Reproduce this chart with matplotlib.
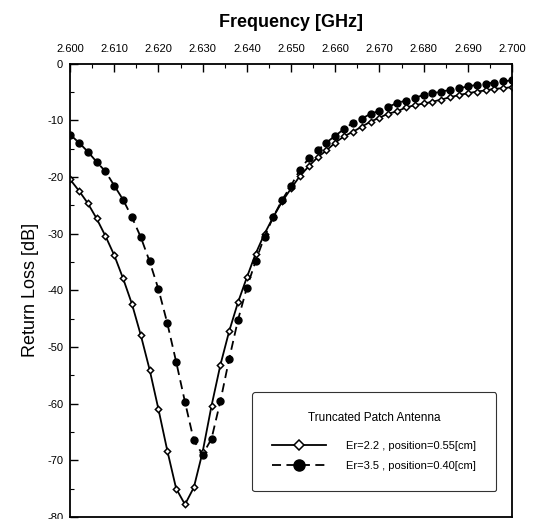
import numpy as np
import matplotlib
matplotlib.use("Agg")
import matplotlib.pyplot as plt
from matplotlib.ticker import MultipleLocator, FormatStrFormatter

plt.rcParams["font.family"] = ["Liberation Sans", "DejaVu Sans"]
plt.rcParams["axes.unicode_minus"] = False

# frequency points, 2 MHz step
freq = np.round(np.arange(2.600, 2.7001, 0.002), 3)

# Er=2.2, position=0.55 cm
rl_22 = [
    -20.4, -22.4, -24.6, -27.3, -30.4, -33.8, -37.9, -42.4, -47.9, -54.0,
    -61.0, -68.3, -75.0, -77.8, -74.8, -68.5, -60.4, -53.2, -47.2, -42.1,
    -37.7, -33.5, -30.0, -27.0, -24.3, -22.0, -19.8, -18.1, -16.5, -15.3,
    -13.9, -12.8, -12.0, -11.1, -10.2, -9.5, -8.8, -8.4, -7.7, -7.3,
    -7.0, -6.7, -6.3, -5.9, -5.5, -5.2, -4.9, -4.7, -4.4, -4.3,
    -4.1,
]

# Er=3.5, position=0.40 cm
rl_35 = [
    -12.5, -13.9, -15.5, -17.3, -19.0, -21.5, -24.0, -27.1, -30.6, -34.9,
    -39.8, -45.8, -52.6, -59.7, -66.5, -69.0, -66.2, -59.6, -52.1, -45.2,
    -39.5, -34.8, -30.5, -27.0, -24.0, -21.5, -18.7, -16.7, -15.3, -13.9,
    -12.7, -11.5, -10.4, -9.7, -8.8, -8.3, -7.6, -6.9, -6.5, -6.0,
    -5.5, -5.2, -4.9, -4.6, -4.3, -4.0, -3.7, -3.5, -3.3, -3.1,
    -2.9,
]

labels = ["Er=2.2 , position=0.55[cm]", "Er=3.5 , position=0.40[cm]"]

fig = plt.figure(figsize=(5.39, 5.19), dpi=100)
ax = fig.add_axes([0.130, 0.004, 0.820, 0.873])

ax.plot(freq, rl_22, color="black", lw=1.3, marker="D", ms=3.2,
        mfc="white", mec="black", mew=1.1, label=labels[0])
ax.plot(freq, rl_35, color="black", lw=1.3, ls=(0, (5, 3)), marker="o",
        ms=5, mfc="black", mec="black", label=labels[1])

ax.set_xlim(2.600, 2.700)
ax.set_ylim(-80, 0)

ax.xaxis.tick_top()
ax.xaxis.set_label_position("top")
ax.xaxis.set_major_locator(MultipleLocator(0.01))
ax.xaxis.set_minor_locator(MultipleLocator(0.005))
ax.xaxis.set_major_formatter(FormatStrFormatter("%.3f"))
ax.yaxis.set_major_locator(MultipleLocator(10))
ax.yaxis.set_minor_locator(MultipleLocator(5))
ax.tick_params(axis="both", which="both", direction="in", labelsize=8)
ax.tick_params(which="major", length=6, width=1.0)
ax.tick_params(which="minor", length=3, width=0.8)
ax.tick_params(axis="x", pad=7)
ax.tick_params(axis="y", pad=5)

for s in ax.spines.values():
    s.set_linewidth(1.3)

ax.set_xlabel("Frequency [GHz]", fontsize=13, fontweight="bold", labelpad=12)
ax.set_ylabel("Return Loss [dB]", fontsize=13, labelpad=6)

leg = ax.legend(title="Truncated Patch Antenna", loc="center",
                bbox_to_anchor=(0.688, 0.166), fontsize=8,
                title_fontsize=8.5, frameon=True, fancybox=True,
                edgecolor="black", markerscale=1.6, handlelength=4.8,
                borderpad=1.8, labelspacing=0.9, handletextpad=1.8)
leg.get_frame().set_linewidth(0.8)
leg._legend_box.sep = 12

fig.savefig("out.png", dpi=100)
